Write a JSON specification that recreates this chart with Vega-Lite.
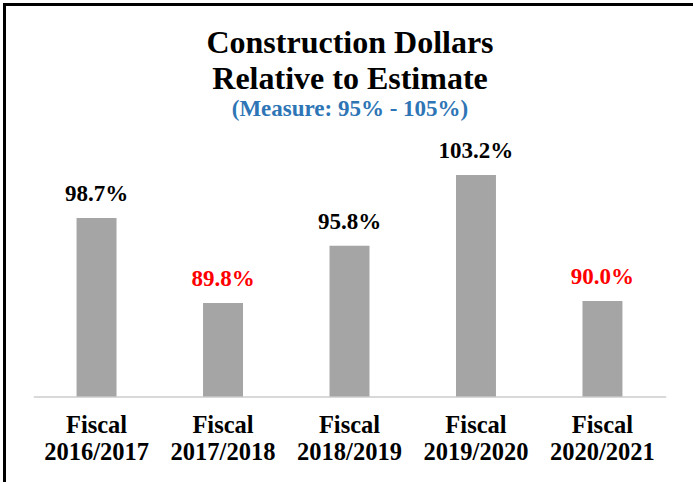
{
  "$schema": "https://vega.github.io/schema/vega-lite/v6.json",
  "width": 691,
  "height": 482,
  "autosize": {"type": "none"},
  "padding": {"left": 4.5, "top": 4.5, "right": 0, "bottom": 0},
  "background": "white",
  "config": {
    "view": {"stroke": "black", "strokeWidth": 3},
    "font": "Liberation Serif",
    "text": {"font": "Liberation Serif"},
    "mark": {"font": "Liberation Serif"}
  },
  "title": {
    "text": ["Construction Dollars", "Relative to Estimate"],
    "subtitle": "(Measure: 95% - 105%)",
    "anchor": "middle",
    "frame": "group",
    "orient": "top",
    "offset": -117,
    "font": "Liberation Serif",
    "fontSize": 32,
    "fontWeight": "bold",
    "color": "black",
    "lineHeight": 35.5,
    "subtitleFont": "Liberation Serif",
    "subtitleFontSize": 23,
    "subtitleFontWeight": "bold",
    "subtitleColor": "#2E75B6",
    "subtitlePadding": 2
  },
  "data": {
    "values": [
      {"year": "2016/2017", "pct": 0.987},
      {"year": "2017/2018", "pct": 0.898},
      {"year": "2018/2019", "pct": 0.958},
      {"year": "2019/2020", "pct": 1.032},
      {"year": "2020/2021", "pct": 0.900}
    ]
  },
  "encoding": {
    "x": {
      "field": "year",
      "type": "nominal",
      "sort": null,
      "scale": {"range": [28.8, 661.2], "paddingInner": 0.684, "paddingOuter": 0.342},
      "axis": {
        "title": null,
        "orient": "bottom",
        "offset": -89.9,
        "domainColor": "#D9D9D9",
        "domainWidth": 2,
        "ticks": false,
        "labelAngle": 0,
        "labelExpr": "['Fiscal', datum.value]",
        "labelFont": "Liberation Serif",
        "labelFontSize": 24.5,
        "labelFontWeight": "bold",
        "labelColor": "black",
        "labelLineHeight": 26.5,
        "labelPadding": 17,
        "labelLimit": 0
      }
    }
  },
  "layer": [
    {
      "mark": {"type": "bar", "color": "#A5A5A5"},
      "encoding": {
        "y": {
          "field": "pct",
          "type": "quantitative",
          "scale": {"domain": [0.8, 1.1], "range": [392.1, 105.5], "zero": false, "nice": false},
          "axis": null
        },
        "y2": {"datum": 0.8}
      }
    },
    {
      "mark": {"type": "text", "dy": -17, "fontSize": 23, "fontWeight": "bold", "baseline": "alphabetic", "font": "Liberation Serif"},
      "encoding": {
        "y": {"field": "pct", "type": "quantitative"},
        "text": {"field": "pct", "type": "quantitative", "format": ".1%"},
        "color": {
          "condition": {"test": "datum.pct < 0.95", "value": "#FF0000"},
          "value": "black"
        }
      }
    }
  ]
}
